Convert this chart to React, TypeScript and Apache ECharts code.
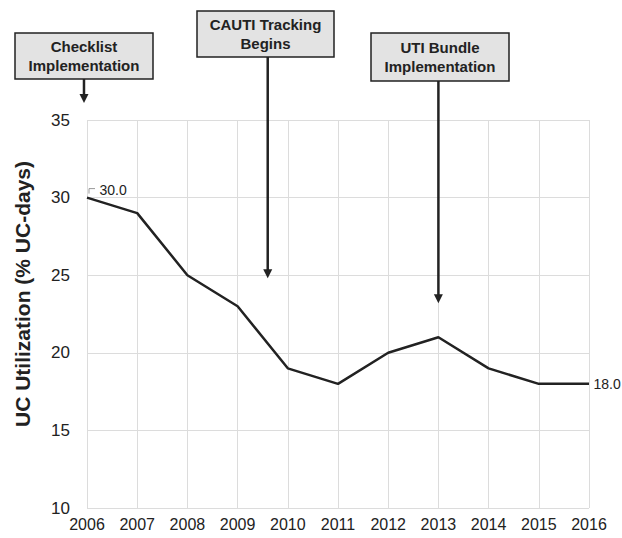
import React, { useEffect, useRef } from "react";
import * as echarts from "echarts";

const years = [2006, 2007, 2008, 2009, 2010, 2011, 2012, 2013, 2014, 2015, 2016];
const utilization = [30, 29, 25, 23, 19, 18, 20, 21, 19, 18, 18];
const yTicks = [10, 15, 20, 25, 30, 35];
const annotations = [
  { text: "Checklist\nImplementation", year: 2005.94, box: [15, 33, 138, 46], tipValue: 36.1 },
  { text: "CAUTI Tracking\nBegins", year: 2009.6, box: [197, 11, 137, 46], tipValue: 24.8 },
  { text: "UTI Bundle\nImplementation", year: 2013, box: [371, 33, 138, 48], tipValue: 23.2 },
];

const FONT = "'Liberation Sans', Arial, sans-serif";

export default function App() {
  const ref = useRef<HTMLDivElement>(null);
  useEffect(() => {
    if (!ref.current) return;
    const chart = echarts.init(ref.current, undefined, { renderer: "svg" });
    const data = utilization.map((v, i) => {
      const item: any = { value: [years[i], v] };
      if (i === 0) {
        item.label = { show: true, position: "right", distance: 12, offset: [0, -8] };
      } else if (i === utilization.length - 1) {
        item.label = { show: true, position: "right", distance: 4 };
      }
      return item;
    });
    chart.setOption({
      animation: false,
      grid: { left: 87, right: 33, top: 120, bottom: 30 },
      xAxis: {
        type: "value",
        min: 2006,
        max: 2016,
        interval: 1,
        axisLine: { show: false },
        axisTick: { show: false },
        splitLine: { show: true, lineStyle: { color: "#dcdcdc", width: 1 } },
        axisLabel: { color: "#222", fontSize: 16, fontFamily: FONT, margin: 8, formatter: (v: number) => String(v) },
      },
      yAxis: {
        type: "value",
        min: yTicks[0],
        max: yTicks[yTicks.length - 1],
        interval: 5,
        axisLine: { show: false },
        axisTick: { show: false },
        splitLine: { show: true, lineStyle: { color: "#dcdcdc", width: 1 } },
        axisLabel: { color: "#222", fontSize: 17, fontFamily: FONT, margin: 17 },
      },
      series: [
        {
          type: "line",
          data,
          symbol: "circle",
          symbolSize: 1,
          showSymbol: true,
          itemStyle: { color: "rgba(0,0,0,0)" },
          lineStyle: { color: "#222", width: 2.5 },
          label: {
            show: false,
            color: "#222",
            fontSize: 14,
            fontFamily: FONT,
            formatter: (p: any) => p.value[1].toFixed(1),
          },
        },
      ],
    });

    const graphics: any[] = [
      {
        type: "text",
        x: 22,
        y: 294,
        rotation: Math.PI / 2,
        style: {
          text: "UC Utilization (% UC-days)",
          font: `bold 21px ${FONT}`,
          fill: "#222",
          textAlign: "center",
          textVerticalAlign: "middle",
        },
      },
    ];
    const p0 = chart.convertToPixel({ gridIndex: 0 }, [years[0], utilization[0]]) as number[];
    graphics.push({
      type: "polyline",
      shape: { points: [[p0[0] + 2, p0[1] - 4], [p0[0] + 2, p0[1] - 9], [p0[0] + 8, p0[1] - 9]] },
      style: { stroke: "#999", lineWidth: 1, fill: null },
    });
    annotations.forEach((a) => {
      const [bx, by, bw, bh] = a.box;
      const tip = chart.convertToPixel({ gridIndex: 0 }, [a.year, a.tipValue]) as number[];
      const ax = tip[0];
      graphics.push({
        type: "rect",
        shape: { x: bx, y: by, width: bw, height: bh },
        style: { fill: "#e3e3e3", stroke: "#222", lineWidth: 1.5 },
      });
      graphics.push({
        type: "text",
        x: bx + bw / 2,
        y: by + bh / 2,
        style: {
          text: a.text,
          font: `bold 15px ${FONT}`,
          fill: "#222",
          textAlign: "center",
          textVerticalAlign: "middle",
          lineHeight: 19,
        },
      });
      graphics.push({
        type: "line",
        shape: { x1: ax, y1: by + bh, x2: ax, y2: tip[1] - 7 },
        style: { stroke: "#222", lineWidth: 2.5 },
      });
      graphics.push({
        type: "polygon",
        shape: { points: [[ax - 4.5, tip[1] - 9], [ax + 4.5, tip[1] - 9], [ax, tip[1]]] },
        style: { fill: "#222" },
      });
    });
    chart.setOption({ graphic: graphics });
    return () => chart.dispose();
  }, []);
  return <div ref={ref} style={{ width: 622, height: 538, position: "absolute", left: 0, top: 0 }} />;
}
